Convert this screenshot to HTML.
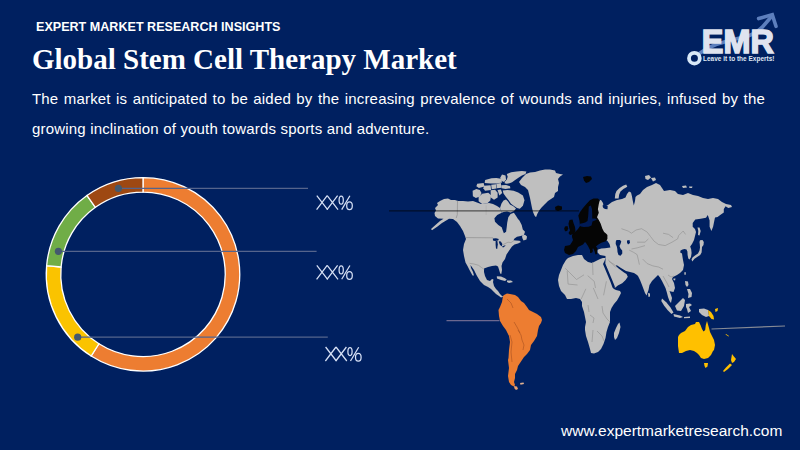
<!DOCTYPE html>
<html><head><meta charset="utf-8">
<style>
html,body{margin:0;padding:0;}
body{width:800px;height:450px;background:#002060;position:relative;overflow:hidden;font-family:"Liberation Sans",sans-serif;}
.t{position:absolute;white-space:nowrap;margin:0;}
#kick{left:36px;top:19px;font-weight:bold;font-size:13px;color:#ffffff;transform:scaleX(0.967);transform-origin:0 0;}
#title{left:32px;top:43px;font-family:"Liberation Serif",serif;font-weight:bold;font-size:29px;color:#ffffff;}
#para{position:absolute;left:32px;top:84.4px;width:733px;font-size:15px;line-height:29.3px;letter-spacing:0.18px;color:#ffffff;text-align:justify;text-align-last:left;}
#foot{left:561px;top:422px;font-size:15.5px;color:#ffffff;}
svg{position:absolute;left:0;top:0;}
</style></head>
<body>
<svg width="800" height="450" viewBox="0 0 800 450">
<path d="M143.00,177.55 A96.75,96.75 0 1 1 91.16,355.99 L98.93,343.75 A82.25,82.25 0 1 0 143.00,192.05 Z" fill="#ed7d31" stroke="#ffffff" stroke-width="1.3" stroke-linejoin="miter"/><path d="M91.16,355.99 A96.75,96.75 0 0 1 46.63,265.70 L61.08,266.99 A82.25,82.25 0 0 0 98.93,343.75 Z" fill="#fac300" stroke="#ffffff" stroke-width="1.3" stroke-linejoin="miter"/><path d="M46.63,265.70 A96.75,96.75 0 0 1 86.95,195.44 L95.35,207.26 A82.25,82.25 0 0 0 61.08,266.99 Z" fill="#70ad47" stroke="#ffffff" stroke-width="1.3" stroke-linejoin="miter"/><path d="M86.95,195.44 A96.75,96.75 0 0 1 143.00,177.55 L143.00,192.05 A82.25,82.25 0 0 0 95.35,207.26 Z" fill="#9e4812" stroke="#ffffff" stroke-width="1.3" stroke-linejoin="miter"/>

<line x1="118.4" y1="188.4" x2="308" y2="188.4" stroke="#55648c" stroke-width="1.3"/>
<circle cx="118.4" cy="188.4" r="3.6" fill="#44596e"/>
<line x1="58.4" y1="251.3" x2="316.6" y2="251.3" stroke="#55648c" stroke-width="1.3"/>
<circle cx="58.4" cy="251.3" r="3.6" fill="#44596e"/>
<line x1="77.7" y1="337.2" x2="327.8" y2="337.2" stroke="#55648c" stroke-width="1.3"/>
<circle cx="77.7" cy="337.2" r="3.6" fill="#44596e"/>

<g fill="none" stroke="#d6e0f5" stroke-width="1.25" stroke-linecap="butt"><path d="M316.8,195.6 L327.6,209.6 M327.2,195.6 L316.6,209.6"/><path d="M327.2,195.6 L338.0,209.6 M337.6,195.6 L327.0,209.6"/><ellipse cx="341.2" cy="200.2" rx="2.1" ry="4.0"/><ellipse cx="349.5" cy="205.8" rx="2.8" ry="3.9"/><path d="M349.9,195.8 L341.7,209.6"/></g><g fill="none" stroke="#d6e0f5" stroke-width="1.25" stroke-linecap="butt"><path d="M316.8,265.3 L327.6,279.3 M327.2,265.3 L316.6,279.3"/><path d="M327.2,265.3 L338.0,279.3 M337.6,265.3 L327.0,279.3"/><ellipse cx="341.2" cy="269.9" rx="2.1" ry="4.0"/><ellipse cx="349.5" cy="275.5" rx="2.8" ry="3.9"/><path d="M349.9,265.5 L341.7,279.3"/></g><g fill="none" stroke="#d6e0f5" stroke-width="1.25" stroke-linecap="butt"><path d="M325.6,347.0 L336.4,361.0 M336.0,347.0 L325.4,361.0"/><path d="M336.0,347.0 L346.8,361.0 M346.4,347.0 L335.8,361.0"/><ellipse cx="350.0" cy="351.6" rx="2.1" ry="4.0"/><ellipse cx="358.3" cy="357.2" rx="2.8" ry="3.9"/><path d="M358.7,347.2 L350.5,361.0"/></g>
<path d="M431.0,229.0 L436.0,224.5 L440.0,221.0 L443.5,218.8 L438.0,218.5 L435.0,216.0 L434.5,213.0 L436.0,210.5 L435.0,208.0 L438.0,205.0 L437.0,203.0 L440.0,201.0 L444.0,199.0 L448.0,198.5 L451.0,200.0 L455.0,200.0 L458.0,201.0 L463.0,201.0 L468.0,201.5 L473.0,201.0 L477.0,202.5 L481.0,204.0 L485.0,203.5 L489.0,203.0 L493.0,204.0 L497.0,206.0 L500.0,208.0 L501.7,212.8 L497.2,215.0 L494.4,218.3 L495.0,221.7 L498.3,225.0 L501.7,227.2 L502.8,230.6 L503.9,233.3 L506.1,231.7 L506.7,227.2 L507.2,222.8 L508.3,217.2 L510.6,213.9 L513.9,212.8 L516.1,216.1 L518.0,219.0 L519.4,220.6 L521.7,225.0 L522.8,229.4 L525.0,231.7 L523.9,235.0 L520.6,236.1 L517.0,236.8 L514.5,238.5 L513.5,240.2 L516.0,240.5 L519.5,240.8 L521.0,242.0 L518.0,243.6 L514.5,244.6 L512.0,246.6 L509.5,250.0 L506.5,254.4 L505.0,259.0 L502.5,262.5 L501.5,266.0 L502.0,270.0 L501.3,274.0 L500.2,273.6 L499.0,269.5 L498.0,266.5 L496.0,265.5 L492.0,266.0 L488.0,267.0 L484.0,268.5 L484.0,272.0 L485.0,276.0 L487.0,280.0 L490.0,281.0 L492.0,279.0 L493.5,279.5 L493.0,282.0 L494.0,286.0 L496.0,289.0 L498.0,291.0 L500.0,294.0 L502.0,296.0 L503.5,296.5 L501.0,297.5 L499.0,296.0 L496.0,294.0 L494.0,292.0 L491.0,289.0 L488.0,287.0 L484.0,285.0 L480.0,281.0 L477.0,276.0 L474.0,270.0 L470.5,265.0 L471.0,268.0 L473.0,272.0 L474.0,275.5 L472.5,275.5 L469.5,270.0 L467.5,266.0 L465.5,262.5 L464.0,256.0 L463.0,250.0 L464.0,244.0 L466.0,239.0 L465.0,236.0 L463.0,231.0 L460.0,226.0 L457.0,222.0 L453.0,219.0 L449.0,218.8 L447.0,220.0 L442.0,223.0 L437.5,226.5 L432.0,230.3 Z" fill="#bfbfbf" />
<path d="M519.0,182.0 L522.0,178.0 L526.0,174.0 L530.0,172.5 L535.0,172.0 L540.0,170.5 L545.0,169.5 L550.0,169.5 L555.0,170.5 L556.0,173.0 L560.0,174.0 L563.0,174.5 L560.0,176.5 L558.0,179.0 L559.0,183.0 L558.0,187.0 L558.0,191.0 L555.0,193.0 L554.0,197.0 L551.0,199.0 L548.0,201.0 L545.0,204.0 L542.0,207.0 L539.5,210.0 L537.5,213.5 L536.0,217.2 L534.5,215.5 L533.0,212.0 L532.0,208.0 L531.0,203.0 L530.0,198.0 L529.0,194.0 L528.0,190.0 L525.0,187.0 L521.0,185.0 Z" fill="#bfbfbf" />
<path d="M506.8,174.1 L511.2,172.3 L516.6,171.4 L521.9,171.0 L526.4,171.4 L525.5,174.1 L521.9,175.4 L518.4,177.7 L514.8,180.3 L512.1,182.2 L509.5,183.2 L506.8,183.8 L504.5,183.2 L505.0,181.6 L506.8,179.4 L507.7,176.8 Z" fill="#bfbfbf" />
<path d="M502.0,174.5 L505.5,175.5 L506.0,179.4 L504.1,182.0 L501.2,180.8 L500.2,177.7 Z" fill="#bfbfbf" />
<path d="M485.1,179.9 L491.5,178.3 L496.4,177.9 L501.0,178.8 L502.1,182.5 L496.4,183.5 L490.5,183.6 L484.7,183.0 Z" fill="#bfbfbf" />
<path d="M477.2,183.8 L483.6,182.9 L484.5,186.6 L478.9,187.9 L476.4,186.3 Z" fill="#bfbfbf" />
<path d="M484.0,185.8 L490.6,185.2 L491.1,190.0 L485.0,190.7 L483.4,188.2 Z" fill="#bfbfbf" />
<path d="M491.2,184.8 L496.0,184.3 L496.5,188.6 L491.7,189.3 Z" fill="#bfbfbf" />
<path d="M496.3,183.8 L500.8,183.1 L501.6,187.7 L496.8,188.3 Z" fill="#bfbfbf" />
<path d="M501.3,185.2 L506.0,184.9 L510.0,186.2 L510.4,188.3 L505.5,189.0 L501.6,188.3 Z" fill="#bfbfbf" />
<path d="M502.7,190.6 L507.4,190.0 L513.6,190.8 L518.2,192.5 L522.9,195.6 L524.5,200.2 L522.9,205.7 L519.8,208.8 L517.0,208.0 L514.0,206.0 L511.0,203.8 L508.8,200.5 L506.0,197.0 L503.5,193.5 Z" fill="#bfbfbf" />
<path d="M472.6,190.7 L476.4,189.1 L479.8,189.9 L481.5,193.0 L479.9,196.5 L475.9,197.9 L472.9,196.3 Z" fill="#bfbfbf" />
<path d="M478.6,196.9 L482.2,193.7 L488.3,192.7 L491.1,195.3 L490.3,200.4 L487.4,203.3 L482.2,204.0 L478.6,201.3 Z" fill="#bfbfbf" />
<path d="M490.6,190.3 L495.1,189.8 L497.6,192.8 L497.6,197.5 L494.0,199.7 L490.8,197.6 Z" fill="#bfbfbf" />
<path d="M497.5,190.0 L500.9,189.5 L502.2,193.1 L499.4,195.4 Z" fill="#bfbfbf" />
<path d="M522.0,235.5 L525.0,234.8 L527.0,236.5 L526.5,239.5 L523.5,240.5 L522.3,238.0 Z" fill="#bfbfbf" />
<path d="M500.0,208.0 L501.5,203.5 L503.5,200.5 L506.0,199.5 L508.0,201.5 L510.0,204.5 L513.0,206.0 L516.0,208.5 L514.0,211.0 L510.6,212.5 L507.0,211.5 L503.5,212.0 L501.7,212.8 Z" fill="#bfbfbf" />
<path d="M496.8,276.2 L501.0,276.6 L505.0,278.3 L506.8,279.8 L505.0,281.0 L501.0,279.9 L497.0,278.4 Z" fill="#bfbfbf" />
<path d="M507.0,280.5 L511.0,280.5 L513.0,282.0 L509.0,283.0 L507.0,282.0 Z" fill="#bfbfbf" />
<path d="M566.0,260.0 L568.0,258.0 L573.0,256.0 L578.0,255.0 L582.0,255.0 L584.0,259.0 L588.0,262.0 L592.0,263.0 L596.0,261.0 L600.0,259.0 L603.0,258.0 L605.5,258.0 L604.5,261.0 L603.0,264.0 L605.5,270.0 L608.0,276.0 L610.5,282.0 L612.5,287.5 L614.0,289.0 L616.0,290.0 L620.0,291.0 L621.0,293.0 L619.0,297.0 L617.0,300.5 L614.0,304.0 L611.5,308.0 L610.0,312.0 L610.0,317.0 L610.0,322.0 L608.0,327.0 L606.5,332.0 L605.5,338.0 L603.5,344.0 L601.0,349.0 L598.0,352.0 L594.0,353.5 L591.0,353.0 L590.0,349.0 L588.0,342.0 L586.0,336.0 L585.0,330.0 L585.0,327.0 L586.0,322.0 L585.0,317.0 L584.0,312.0 L582.0,306.0 L582.0,302.0 L580.0,299.0 L576.0,298.0 L571.0,299.0 L567.0,299.0 L565.0,295.0 L561.0,291.0 L559.0,286.0 L558.0,280.0 L559.0,275.0 L561.0,270.0 L563.0,265.0 Z" fill="#bfbfbf" />
<path d="M599.7,200.3 L601.0,200.0 L603.0,203.0 L604.0,209.0 L605.0,206.0 L608.0,205.0 L612.0,202.0 L617.0,200.0 L622.0,199.0 L625.5,197.5 L627.0,194.0 L629.0,191.5 L631.0,192.5 L632.0,196.5 L632.8,201.0 L633.8,205.5 L635.0,201.0 L635.5,197.0 L637.0,195.5 L640.0,194.0 L643.0,190.0 L647.0,187.0 L652.0,185.0 L656.0,183.0 L660.0,185.0 L662.0,188.0 L664.0,191.0 L670.0,190.0 L675.0,191.0 L678.0,194.0 L683.0,195.0 L688.0,193.0 L693.0,195.0 L698.0,196.0 L703.0,198.0 L708.0,199.0 L713.0,198.0 L718.0,199.0 L722.0,202.0 L726.0,204.0 L731.0,205.0 L732.0,207.0 L728.3,208.0 L725.6,206.2 L723.8,208.9 L723.8,212.5 L720.2,215.1 L717.6,216.9 L715.0,217.5 L714.0,222.2 L713.1,226.7 L711.4,231.1 L709.6,226.7 L709.6,220.5 L707.8,215.1 L706.0,217.8 L700.7,218.7 L695.3,219.6 L692.7,223.1 L692.7,226.7 L695.0,229.0 L696.0,232.0 L695.0,236.0 L694.0,240.0 L692.0,244.0 L690.2,246.6 L691.2,249.5 L691.6,253.0 L691.0,257.0 L689.5,259.5 L688.3,258.5 L687.6,255.0 L687.4,251.5 L686.5,249.5 L684.5,249.0 L682.5,249.5 L680.5,250.5 L680.2,252.5 L682.0,253.5 L682.5,257.0 L683.0,260.0 L684.0,265.0 L683.0,270.0 L680.0,273.0 L677.0,275.0 L673.0,277.0 L672.0,279.0 L674.0,283.0 L675.0,288.0 L673.5,292.0 L671.0,291.5 L669.5,291.0 L671.0,295.0 L672.0,298.0 L671.0,303.0 L669.5,301.0 L668.0,297.0 L667.0,293.0 L665.5,288.0 L664.0,285.0 L662.0,281.0 L660.0,277.5 L658.0,275.0 L656.0,277.0 L652.0,281.0 L649.5,285.0 L648.5,290.0 L646.5,295.5 L645.0,293.0 L643.5,289.0 L642.0,285.0 L640.0,280.0 L638.0,276.0 L637.0,275.0 L634.0,273.0 L630.0,272.0 L626.0,271.0 L621.0,268.0 L616.5,265.0 L616.0,266.5 L620.0,269.5 L624.0,272.5 L626.5,274.0 L627.8,276.7 L625.6,280.0 L622.2,283.3 L617.8,285.6 L614.8,288.0 L614.8,286.5 L612.8,281.5 L610.3,275.5 L607.8,269.5 L605.3,263.5 L605.5,260.0 L605.5,256.0 L600.0,255.0 L597.6,252.5 L597.6,249.7 L601.3,248.4 L605.0,248.2 L610.4,247.6 L609.5,244.0 L607.5,241.0 L603.0,238.0 L597.0,225.0 L595.0,215.0 L597.0,205.0 Z" fill="#bfbfbf" />
<path d="M614.8,198.4 L615.3,194.0 L616.5,191.0 L619.6,188.0 L623.0,185.8 L626.2,184.5 L627.3,186.8 L623.4,189.0 L620.5,191.5 L619.2,194.5 L618.6,198.4 Z" fill="#bfbfbf" />
<path d="M645.0,176.0 L649.0,175.0 L651.0,177.5 L648.0,180.0 L645.5,179.0 Z" fill="#bfbfbf" />
<path d="M651.0,178.0 L655.0,177.5 L656.0,180.0 L653.0,181.5 Z" fill="#bfbfbf" />
<path d="M682.0,186.0 L686.0,185.5 L687.0,187.5 L683.0,188.0 Z" fill="#bfbfbf" />
<path d="M689.0,186.5 L692.5,186.5 L692.0,188.0 L689.5,188.0 Z" fill="#bfbfbf" />
<path d="M697.5,227.5 L699.5,227.5 L700.7,231.0 L699.5,235.6 L698.0,235.0 L698.3,231.0 Z" fill="#bfbfbf" />
<path d="M700.0,240.2 L702.5,240.0 L703.8,242.0 L703.5,245.0 L702.0,247.0 L701.8,250.0 L701.6,252.5 L700.2,255.0 L697.5,256.8 L694.5,258.8 L692.3,261.5 L691.5,259.5 L692.5,257.5 L695.0,255.5 L698.0,253.5 L699.5,250.5 L700.0,247.5 L699.8,244.5 L699.5,242.0 Z" fill="#bfbfbf" />
<path d="M684.5,272.0 L686.0,272.5 L685.5,275.0 L684.3,274.5 Z" fill="#bfbfbf" />
<path d="M673.5,278.5 L675.5,278.5 L675.0,280.5 L673.5,280.0 Z" fill="#bfbfbf" />
<path d="M685.0,281.0 L688.0,281.5 L688.5,285.0 L687.0,287.0 L685.5,285.0 Z" fill="#bfbfbf" />
<path d="M687.0,289.0 L690.0,289.0 L692.0,293.0 L691.5,297.0 L688.0,298.0 L688.5,294.0 Z" fill="#bfbfbf" />
<path d="M662.0,298.5 L666.5,302.5 L670.5,307.5 L673.5,312.5 L671.5,314.0 L667.5,310.0 L664.0,305.5 L661.3,301.0 Z" fill="#bfbfbf" />
<path d="M673.5,314.0 L680.0,315.5 L683.0,317.0 L680.0,318.0 L674.0,316.5 Z" fill="#bfbfbf" />
<path d="M675.0,306.0 L680.0,301.0 L683.0,298.0 L685.0,300.0 L684.0,306.0 L681.0,311.0 L677.0,310.5 Z" fill="#bfbfbf" />
<path d="M686.0,304.0 L690.0,303.5 L692.0,305.0 L689.0,307.0 L691.0,311.0 L688.0,313.0 L687.0,309.0 L686.0,307.0 Z" fill="#bfbfbf" />
<path d="M684.0,317.0 L690.0,316.5 L690.0,318.0 L684.0,318.3 Z" fill="#bfbfbf" />
<path d="M699.0,309.0 L704.0,308.5 L708.0,310.0 L709.0,316.0 L706.0,317.0 L702.0,315.0 L699.0,312.0 Z" fill="#bfbfbf" />
<path d="M648.0,293.0 L650.0,293.5 L650.0,296.5 L648.5,297.0 Z" fill="#bfbfbf" />
<path d="M619.5,322.5 L620.5,327.0 L619.0,333.0 L617.0,338.0 L615.0,340.0 L614.0,337.0 L614.0,333.0 L616.0,328.0 L618.0,324.0 Z" fill="#bfbfbf" />
<path d="M457.5,200.8 L457.3,214.6 L456.2,218" fill="none" stroke="#8e8e8e" stroke-width="0.7"/><path d="M486.2,205.5 L486.2,215" fill="none" stroke="#a6a6a6" stroke-width="0.5"/><path d="M465.8,237.6 L493,237.8" fill="none" stroke="#8e8e8e" stroke-width="0.7"/><path d="M503,244.6 L508,242.2 L511,242.6 L514,240.6" fill="none" stroke="#8e8e8e" stroke-width="0.6"/><path d="M469.5,263.3 L474,264 L478.5,265.3 L481.5,267.5 L484.2,269.4" fill="none" stroke="#8e8e8e" stroke-width="0.6"/><path d="M621.4,228.7 L628.1,231 L631.5,233.2 L636,230 L641.6,228.7 L647.2,232.1 L650.6,236.6 L654,241.1 L658.5,244.5 L665.2,245.6 L672,242.2 L677.6,238.9 L678.7,235.5 L683.2,231 L685.5,234.4" fill="none" stroke="#8e8e8e" stroke-width="0.6"/><path d="M637.1,242.2 L645,242.2 L648.4,238.9" fill="none" stroke="#8e8e8e" stroke-width="0.6"/><path d="M631.5,249 L637.1,247.9 L645,245.6" fill="none" stroke="#8e8e8e" stroke-width="0.6"/><path d="M629.2,250.1 L633.7,252.4 L637.1,254.6 L638.2,259.1 L639.4,264.7" fill="none" stroke="#8e8e8e" stroke-width="0.6"/><path d="M642.7,259.1 L647.2,263.6 L652.9,265.9 L658.5,267 L663,269.2" fill="none" stroke="#8e8e8e" stroke-width="0.6"/><path d="M663,233.2 L668.6,234.4 L673.1,237.7" fill="none" stroke="#8e8e8e" stroke-width="0.6"/><path d="M609,261.4 L614.6,264.7 L618,268.1" fill="none" stroke="#8e8e8e" stroke-width="0.6"/><path d="M565.3,268.3 L576.5,279.5 L584,274.8" fill="none" stroke="#8e8e8e" stroke-width="0.6"/><path d="M567.2,271 L568.1,284.1 L577.5,285" fill="none" stroke="#8e8e8e" stroke-width="0.6"/><path d="M587.7,275.7 L594.2,281.3 L595.5,288" fill="none" stroke="#8e8e8e" stroke-width="0.6"/><path d="M585.9,288.8 L581.2,299" fill="none" stroke="#8e8e8e" stroke-width="0.6"/><path d="M606.4,281.3 L603.6,295.3" fill="none" stroke="#8e8e8e" stroke-width="0.6"/><path d="M593.3,287.9 L598,299" fill="none" stroke="#8e8e8e" stroke-width="0.6"/><path d="M592.5,262 L593,275" fill="none" stroke="#8e8e8e" stroke-width="0.6"/><path d="M608.2,259.9 L615.7,267.3" fill="none" stroke="#8e8e8e" stroke-width="0.6"/><path d="M588,305 L589,312" fill="none" stroke="#8e8e8e" stroke-width="0.6"/><path d="M590,315 L594,318 L593,323" fill="none" stroke="#8e8e8e" stroke-width="0.6"/><path d="M602,306 L603,313 L607,319 L610,322" fill="none" stroke="#8e8e8e" stroke-width="0.6"/><path d="M593,330 L592,342" fill="none" stroke="#8e8e8e" stroke-width="0.6"/><path d="M597,331 L602,336 L604,341" fill="none" stroke="#8e8e8e" stroke-width="0.6"/><path d="M663,276 L667,283 L669,287" fill="none" stroke="#8e8e8e" stroke-width="0.6"/><path d="M668,275 L671,277 L674,276" fill="none" stroke="#8e8e8e" stroke-width="0.6"/>
<path d="M616.5,240.0 L620.0,240.0 L621.3,241.5 L620.5,244.0 L619.5,246.0 L620.5,248.5 L622.2,250.5 L622.3,253.5 L620.5,255.8 L618.5,255.0 L617.5,252.0 L617.3,249.0 L616.8,246.5 L615.7,244.0 L615.8,241.5 Z" fill="#002060" />
<path d="M627.0,240.5 L629.5,240.0 L630.0,243.0 L628.0,244.4 L627.0,242.5 Z" fill="#002060" />
<path d="M602.5,205.5 L605.0,204.5 L607.7,206.0 L607.5,209.3 L605.0,209.0 L603.0,207.5 Z" fill="#002060" />
<path d="M492.8,238.6 L496.0,238.2 L498.8,239.0 L498.2,240.6 L495.0,241.0 L493.0,240.4 Z" fill="#002060" />
<path d="M495.6,241.0 L497.4,241.0 L497.8,244.5 L497.2,249.0 L496.0,248.5 L495.6,244.5 Z" fill="#002060" />
<path d="M498.8,241.3 L500.8,241.6 L502.4,244.0 L501.8,246.3 L500.0,245.0 L499.2,243.0 Z" fill="#002060" />
<path d="M501.8,246.8 L504.2,245.4 L505.8,245.6 L503.2,247.4 Z" fill="#002060" />
<path d="M593.5,198.6 L597.9,198.6 L599.7,200.3 L598.8,203.9 L597.9,209.2 L598.8,212.8 L597.0,217.2 L598.8,219.9 L600.6,223.5 L602.4,228.8 L604.1,232.0 L606.0,233.5 L607.4,235.0 L607.4,239.0 L605.9,241.3 L601.3,242.8 L597.6,245.1 L596.0,246.5 L597.5,248.5 L597.0,251.0 L597.0,254.0 L595.5,254.5 L594.5,251.0 L593.0,248.0 L592.5,249.5 L593.0,251.0 L592.0,252.8 L590.0,253.0 L590.0,250.0 L588.0,246.0 L586.0,243.0 L585.0,242.0 L583.0,244.5 L580.0,246.0 L578.0,247.0 L576.0,251.0 L573.0,254.0 L569.0,255.0 L565.0,253.0 L564.0,250.0 L565.0,246.0 L568.0,245.5 L570.0,245.0 L572.0,242.0 L573.0,240.0 L572.0,237.0 L572.0,235.0 L575.0,232.0 L578.0,229.0 L580.0,226.0 L579.5,221.0 L578.3,215.5 L580.1,211.9 L582.8,208.3 L586.4,203.9 L589.9,200.3 Z" fill="#050505" />
<path d="M569.5,220.0 L572.5,219.5 L573.5,223.0 L575.0,227.0 L575.5,231.0 L574.0,234.0 L570.0,235.0 L568.5,233.0 L570.0,230.5 L569.0,227.0 L568.5,223.5 Z" fill="#050505" />
<path d="M565.0,226.5 L567.5,226.0 L568.2,228.5 L567.2,231.0 L565.0,231.3 L564.2,228.8 Z" fill="#050505" />
<path d="M555.0,207.0 L558.0,205.5 L562.0,206.5 L562.0,209.5 L558.0,211.0 L555.5,210.0 Z" fill="#050505" />
<path d="M583.0,177.0 L587.0,176.0 L591.0,176.5 L592.0,179.0 L589.0,182.0 L586.0,183.0 L584.0,180.5 Z" fill="#050505" />
<path d="M588.8,206.5 L590.8,205.6 L592.0,209.0 L592.2,214.0 L592.2,218.6 L595.0,218.4 L597.0,219.2 L595.0,220.6 L592.5,221.6 L591.5,225.5 L588.5,226.8 L584.0,227.0 L580.8,226.4 L579.2,225.0 L580.0,223.8 L582.5,223.2 L585.2,222.6 L587.5,221.0 L588.2,216.0 Z" fill="#001a55" />
<path d="M504.0,295.0 L507.0,293.5 L510.0,294.0 L515.0,295.0 L518.0,297.0 L521.0,301.0 L524.0,303.0 L527.0,307.0 L529.0,310.0 L533.0,312.0 L537.0,314.0 L541.0,317.0 L542.0,320.0 L541.0,323.0 L539.0,326.0 L538.0,330.0 L537.0,336.0 L534.0,341.0 L531.0,345.0 L530.0,350.0 L527.0,354.0 L524.0,357.0 L522.0,360.0 L520.0,363.0 L518.0,366.0 L517.0,370.0 L515.0,374.0 L515.0,378.0 L514.0,382.0 L515.0,385.0 L514.0,386.5 L511.0,385.0 L509.0,382.0 L508.0,376.0 L509.0,368.0 L508.0,360.0 L508.5,358.0 L509.0,350.0 L510.0,342.0 L509.0,336.0 L506.0,330.0 L503.0,326.0 L500.0,321.0 L499.0,316.0 L498.5,310.0 L500.0,307.0 L502.0,302.0 L503.0,296.0 Z" fill="#ed7d31" />
<path d="M507,299 L511,303 L513,308" fill="none" stroke="#a85020" stroke-width="0.6"/><path d="M514,322 L517,327 L520,333" fill="none" stroke="#a85020" stroke-width="0.6"/><path d="M518,330 L521,335 L522,340 L524,345 L523,350" fill="none" stroke="#a85020" stroke-width="0.6"/><path d="M510,335 L512,342 L511,352 L512,362" fill="none" stroke="#a85020" stroke-width="0.6"/>
<path d="M514.0,386.0 L517.0,386.5 L518.0,389.0 L516.0,390.0 L514.5,388.5 Z" fill="#e8a070" />
<path d="M520.0,383.0 L523.5,382.5 L524.0,384.0 L520.5,384.7 Z" fill="#e0b090" />
<path d="M678.0,337.0 L679.0,335.0 L681.0,333.0 L685.0,331.0 L688.0,327.0 L691.0,325.0 L695.0,324.0 L696.0,322.0 L699.0,322.0 L700.5,325.0 L702.0,329.0 L703.5,331.5 L705.2,330.0 L705.8,325.0 L707.0,321.0 L709.0,328.0 L710.0,332.0 L712.0,336.0 L714.0,340.0 L715.0,345.0 L714.0,350.0 L713.0,351.0 L711.0,355.0 L708.0,358.0 L704.0,359.0 L701.0,358.0 L699.0,355.0 L697.0,353.0 L694.0,351.0 L690.0,350.0 L686.0,351.0 L682.0,353.0 L679.0,353.0 L678.0,346.0 Z" fill="#ffc000" />
<path d="M704.0,363.0 L708.0,363.0 L707.5,366.5 L705.5,368.0 L704.5,366.0 Z" fill="#ffc000" />
<path d="M732.0,354.0 L733.5,356.0 L736.0,359.0 L734.0,362.0 L732.0,363.0 L731.0,360.0 L731.5,357.0 Z" fill="#ffc000" />
<path d="M730.0,363.5 L732.0,365.0 L728.0,369.0 L724.0,372.0 L723.0,371.0 L726.0,367.5 Z" fill="#ffc000" />
<path d="M726.0,334.0 L729.0,336.0 L728.5,336.5 L725.5,334.5 Z" fill="#ffc000" />
<path d="M708.0,310.0 L711.0,312.0 L713.5,316.0 L714.0,319.5 L711.5,319.0 L709.0,316.0 Z" fill="#ffc000" />
<path d="M715.0,309.0 L718.0,308.0 L717.5,311.0 L715.5,312.0 Z" fill="#ffc000" />

<line x1="389" y1="210.9" x2="579" y2="210.9" stroke="#000000" stroke-opacity="0.58" stroke-width="1.4"/>
<line x1="446.5" y1="320.7" x2="499.5" y2="320.7" stroke="#6b6890" stroke-width="1.3"/>
<line x1="711.5" y1="329" x2="785" y2="326" stroke="#858a95" stroke-width="1.2"/>


<g>
 <path d="M697,55 L707,48.5 L716,44.5 L731,40 L748,36.2 L756,32.5 L762,27.5 L771.5,16.5" fill="none" stroke="#5d7fbd" stroke-width="3.6" stroke-linecap="butt" stroke-linejoin="round"/>
 <path d="M758.6,18.6 L772.3,14.6 L776,26.3" fill="none" stroke="#5d7fbd" stroke-width="3.6" stroke-linejoin="miter" stroke-linecap="round"/>
 <text x="701.8" y="53.2" font-family="'Liberation Sans', sans-serif" font-weight="bold" font-size="32.5" fill="#dfe3ef" stroke="#dfe3ef" stroke-width="1.5" textLength="72" lengthAdjust="spacingAndGlyphs">EMR</text>
 <circle cx="694.4" cy="58.2" r="5.4" fill="none" stroke="#d8e8f7" stroke-width="3.8"/>
 <text x="703" y="61.2" font-family="'Liberation Sans', sans-serif" font-weight="bold" font-size="6.6" fill="#dfe6f3" textLength="71.5" lengthAdjust="spacingAndGlyphs">Leave it to the Experts!</text>
</g>

</svg>
<div class="t" id="kick">EXPERT MARKET RESEARCH INSIGHTS</div>
<div class="t" id="title">Global Stem Cell Therapy Market</div>
<div id="para">The market is anticipated to be aided by the increasing prevalence of wounds and injuries, infused by the growing inclination of youth towards sports and adventure.</div>
<div class="t" id="foot">www.expertmarketresearch.com</div>
</body></html>
